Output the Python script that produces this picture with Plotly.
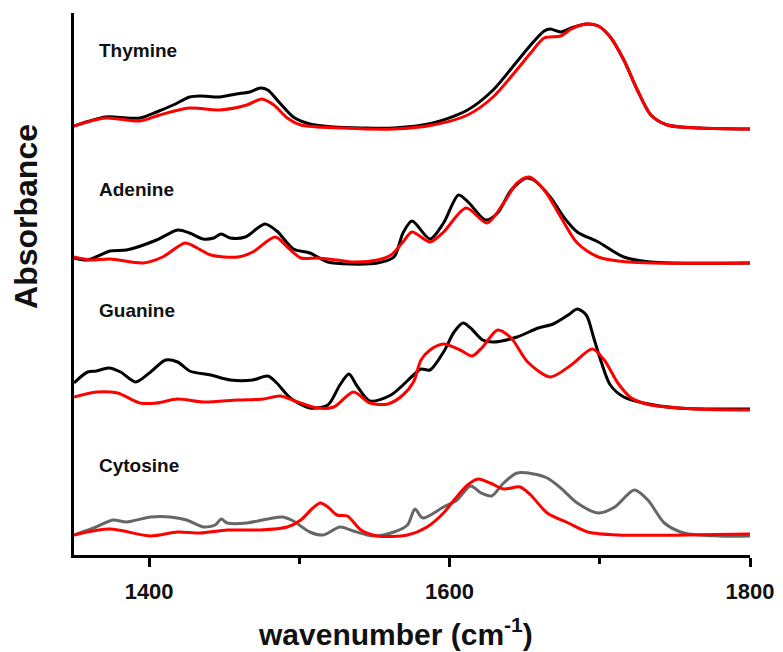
import plotly.graph_objects as go

# ---- data (wavenumber in cm^-1, absorbance in stacked arbitrary units) ----
thy_k_x = [1350, 1371, 1385, 1394, 1405, 1416, 1427, 1434, 1447, 1458, 1467, 1474, 1479, 1487, 1496, 1507, 1523, 1541, 1563, 1589, 1612, 1629, 1643, 1654, 1663, 1667, 1674, 1681, 1691, 1699, 1707, 1716, 1725, 1734, 1745, 1767, 1800]
thy_k_y = [4.29, 4.38, 4.37, 4.37, 4.43, 4.50, 4.58, 4.59, 4.58, 4.61, 4.63, 4.67, 4.65, 4.52, 4.38, 4.31, 4.28, 4.27, 4.27, 4.32, 4.45, 4.65, 4.90, 5.10, 5.24, 5.26, 5.23, 5.27, 5.31, 5.29, 5.18, 4.95, 4.65, 4.40, 4.30, 4.27, 4.26]
thy_r_x = [1350, 1371, 1394, 1407, 1427, 1447, 1465, 1475, 1483, 1492, 1501, 1529, 1563, 1589, 1612, 1629, 1643, 1654, 1663, 1674, 1681, 1691, 1699, 1707, 1716, 1725, 1734, 1745, 1767, 1800]
thy_r_y = [4.29, 4.37, 4.34, 4.40, 4.47, 4.45, 4.50, 4.56, 4.50, 4.37, 4.30, 4.27, 4.26, 4.30, 4.40, 4.58, 4.82, 5.02, 5.17, 5.19, 5.26, 5.31, 5.29, 5.18, 4.95, 4.65, 4.40, 4.30, 4.27, 4.26]

ade_k_x = [1350, 1359, 1374, 1385, 1405, 1419, 1427, 1436, 1443, 1448, 1454, 1464, 1477, 1485, 1496, 1507, 1519, 1534, 1552, 1563, 1569, 1575, 1587, 1596, 1606, 1613, 1624, 1632, 1641, 1651, 1656, 1667, 1676, 1685, 1699, 1716, 1734, 1800]
ade_k_y = [2.97, 2.95, 3.04, 3.05, 3.15, 3.25, 3.22, 3.16, 3.17, 3.21, 3.17, 3.18, 3.31, 3.24, 3.06, 3.02, 2.93, 2.91, 2.92, 2.98, 3.22, 3.34, 3.16, 3.32, 3.60, 3.52, 3.35, 3.42, 3.65, 3.77, 3.75, 3.58, 3.38, 3.23, 3.13, 2.98, 2.93, 2.92]
ade_r_x = [1350, 1361, 1374, 1396, 1409, 1424, 1432, 1441, 1459, 1469, 1484, 1492, 1501, 1512, 1525, 1536, 1552, 1561, 1569, 1575, 1587, 1596, 1611, 1625, 1636, 1645, 1653, 1663, 1674, 1685, 1699, 1719, 1800]
ade_r_y = [2.98, 2.95, 2.96, 2.92, 2.98, 3.12, 3.07, 3.00, 2.98, 3.03, 3.18, 3.08, 2.97, 2.97, 2.95, 2.93, 2.95, 3.00, 3.13, 3.23, 3.13, 3.23, 3.47, 3.32, 3.52, 3.72, 3.78, 3.65, 3.38, 3.12, 2.98, 2.93, 2.92]

gua_k_x = [1350, 1359, 1365, 1373, 1381, 1391, 1401, 1411, 1419, 1427, 1441, 1454, 1469, 1479, 1485, 1494, 1507, 1519, 1527, 1533, 1538, 1547, 1561, 1576, 1581, 1587, 1596, 1603, 1609, 1614, 1622, 1629, 1645, 1659, 1669, 1679, 1685, 1691, 1696, 1701, 1707, 1716, 1729, 1752, 1800]
gua_k_y = [1.72, 1.83, 1.84, 1.87, 1.83, 1.73, 1.83, 1.95, 1.93, 1.84, 1.80, 1.75, 1.75, 1.79, 1.72, 1.57, 1.47, 1.50, 1.70, 1.81, 1.70, 1.54, 1.60, 1.80, 1.86, 1.85, 2.03, 2.23, 2.32, 2.27, 2.15, 2.13, 2.18, 2.27, 2.31, 2.40, 2.46, 2.40, 2.17, 1.93, 1.70, 1.58, 1.52, 1.47, 1.46]
gua_r_x = [1350, 1365, 1379, 1394, 1405, 1419, 1436, 1459, 1476, 1487, 1499, 1512, 1523, 1536, 1547, 1559, 1569, 1576, 1581, 1587, 1596, 1607, 1615, 1622, 1632, 1641, 1652, 1667, 1681, 1695, 1703, 1712, 1721, 1734, 1763, 1800]
gua_r_y = [1.58, 1.63, 1.62, 1.52, 1.52, 1.56, 1.53, 1.55, 1.56, 1.59, 1.53, 1.47, 1.48, 1.63, 1.52, 1.51, 1.60, 1.73, 1.95, 2.05, 2.11, 2.05, 1.99, 2.08, 2.25, 2.17, 1.93, 1.78, 1.90, 2.06, 1.95, 1.72, 1.57, 1.50, 1.46, 1.45]

cyt_g_x = [1350, 1363, 1376, 1385, 1401, 1414, 1425, 1436, 1444, 1448, 1452, 1465, 1479, 1489, 1496, 1507, 1516, 1527, 1536, 1549, 1563, 1572, 1577, 1582, 1596, 1605, 1614, 1621, 1628, 1636, 1645, 1656, 1665, 1674, 1685, 1699, 1710, 1723, 1732, 1743, 1756, 1779, 1800]
cyt_g_y = [0.20, 0.27, 0.35, 0.33, 0.38, 0.38, 0.35, 0.28, 0.30, 0.36, 0.32, 0.32, 0.36, 0.38, 0.34, 0.23, 0.20, 0.28, 0.24, 0.19, 0.23, 0.30, 0.46, 0.37, 0.48, 0.55, 0.69, 0.62, 0.59, 0.72, 0.82, 0.81, 0.77, 0.67, 0.52, 0.42, 0.48, 0.65, 0.55, 0.32, 0.22, 0.19, 0.19]
cyt_r_x = [1350, 1374, 1401, 1419, 1434, 1452, 1474, 1492, 1501, 1509, 1514, 1519, 1525, 1532, 1541, 1552, 1572, 1585, 1596, 1603, 1612, 1619, 1627, 1636, 1647, 1654, 1665, 1679, 1692, 1712, 1800]
cyt_r_y = [0.20, 0.26, 0.19, 0.23, 0.22, 0.25, 0.25, 0.28, 0.35, 0.47, 0.52, 0.48, 0.40, 0.39, 0.25, 0.19, 0.20, 0.28, 0.42, 0.55, 0.70, 0.76, 0.72, 0.66, 0.68, 0.60, 0.42, 0.32, 0.23, 0.20, 0.21]

names = ["Thymine", "Adenine", "Guanine", "Cytosine"]
label_y = [5.05, 3.66, 2.45, 0.90]
x_ticks = [1400, 1600, 1800]
x_minor_ticks = [1500, 1700]

FONT = "Liberation Sans, Arial, sans-serif"
TXT = "#111111"
BLACK = "#000000"
RED = "#ff0000"
GREY = "#666666"

fig = go.Figure()
series = [
    (thy_k_x, thy_k_y, BLACK), (thy_r_x, thy_r_y, RED),
    (ade_k_x, ade_k_y, BLACK), (ade_r_x, ade_r_y, RED),
    (gua_k_x, gua_k_y, BLACK), (gua_r_x, gua_r_y, RED),
    (cyt_g_x, cyt_g_y, GREY), (cyt_r_x, cyt_r_y, RED),
]
for xs, ys, col in series:
    fig.add_trace(go.Scatter(x=xs, y=ys, mode="lines",
                             line=dict(color=col, width=3, shape="spline", smoothing=0.8),
                             showlegend=False, hoverinfo="skip"))

for name, ly in zip(names, label_y):
    fig.add_annotation(x=0.034, xref="paper", y=ly, yref="y", text="<b>%s</b>" % name,
                       showarrow=False, xanchor="left", yanchor="middle",
                       font=dict(family=FONT, size=19, color=TXT))

# axis titles
fig.add_annotation(x=0.476, xref="paper", y=-0.142, yref="paper",
                   text="<b>wavenumber (cm<sup>-1</sup>)</b>", showarrow=False,
                   xanchor="center", yanchor="middle",
                   font=dict(family=FONT, size=30, color=TXT))
fig.add_annotation(x=-0.070, xref="paper", y=0.625, yref="paper",
                   text="<b>Absorbance</b>", showarrow=False, textangle=-90,
                   xanchor="center", yanchor="middle",
                   font=dict(family=FONT, size=32, color=TXT))

fig.update_layout(
    width=783, height=652,
    margin=dict(l=66, r=41, t=5, b=105),
    paper_bgcolor="white", plot_bgcolor="white",
    font=dict(family=FONT, color=TXT),
    xaxis=dict(range=[1350, 1800], tickvals=x_ticks, ticktext=["<b>%d</b>" % v for v in x_ticks],
               ticks="outside", ticklen=9, tickwidth=3, tickcolor="black", ticklabelstandoff=6,
               showline=True, linewidth=3, linecolor="black", showgrid=False, zeroline=False,
               tickfont=dict(size=22, family=FONT, color=TXT),
               minor=dict(tickvals=x_minor_ticks, ticks="outside", ticklen=6, tickwidth=3,
                          tickcolor="black", showgrid=False)),
    yaxis=dict(range=[0, 5.42], showticklabels=False, ticks="", showgrid=False, zeroline=False,
               showline=True, linewidth=3, linecolor="black"),
)

fig.write_html("out.html")
